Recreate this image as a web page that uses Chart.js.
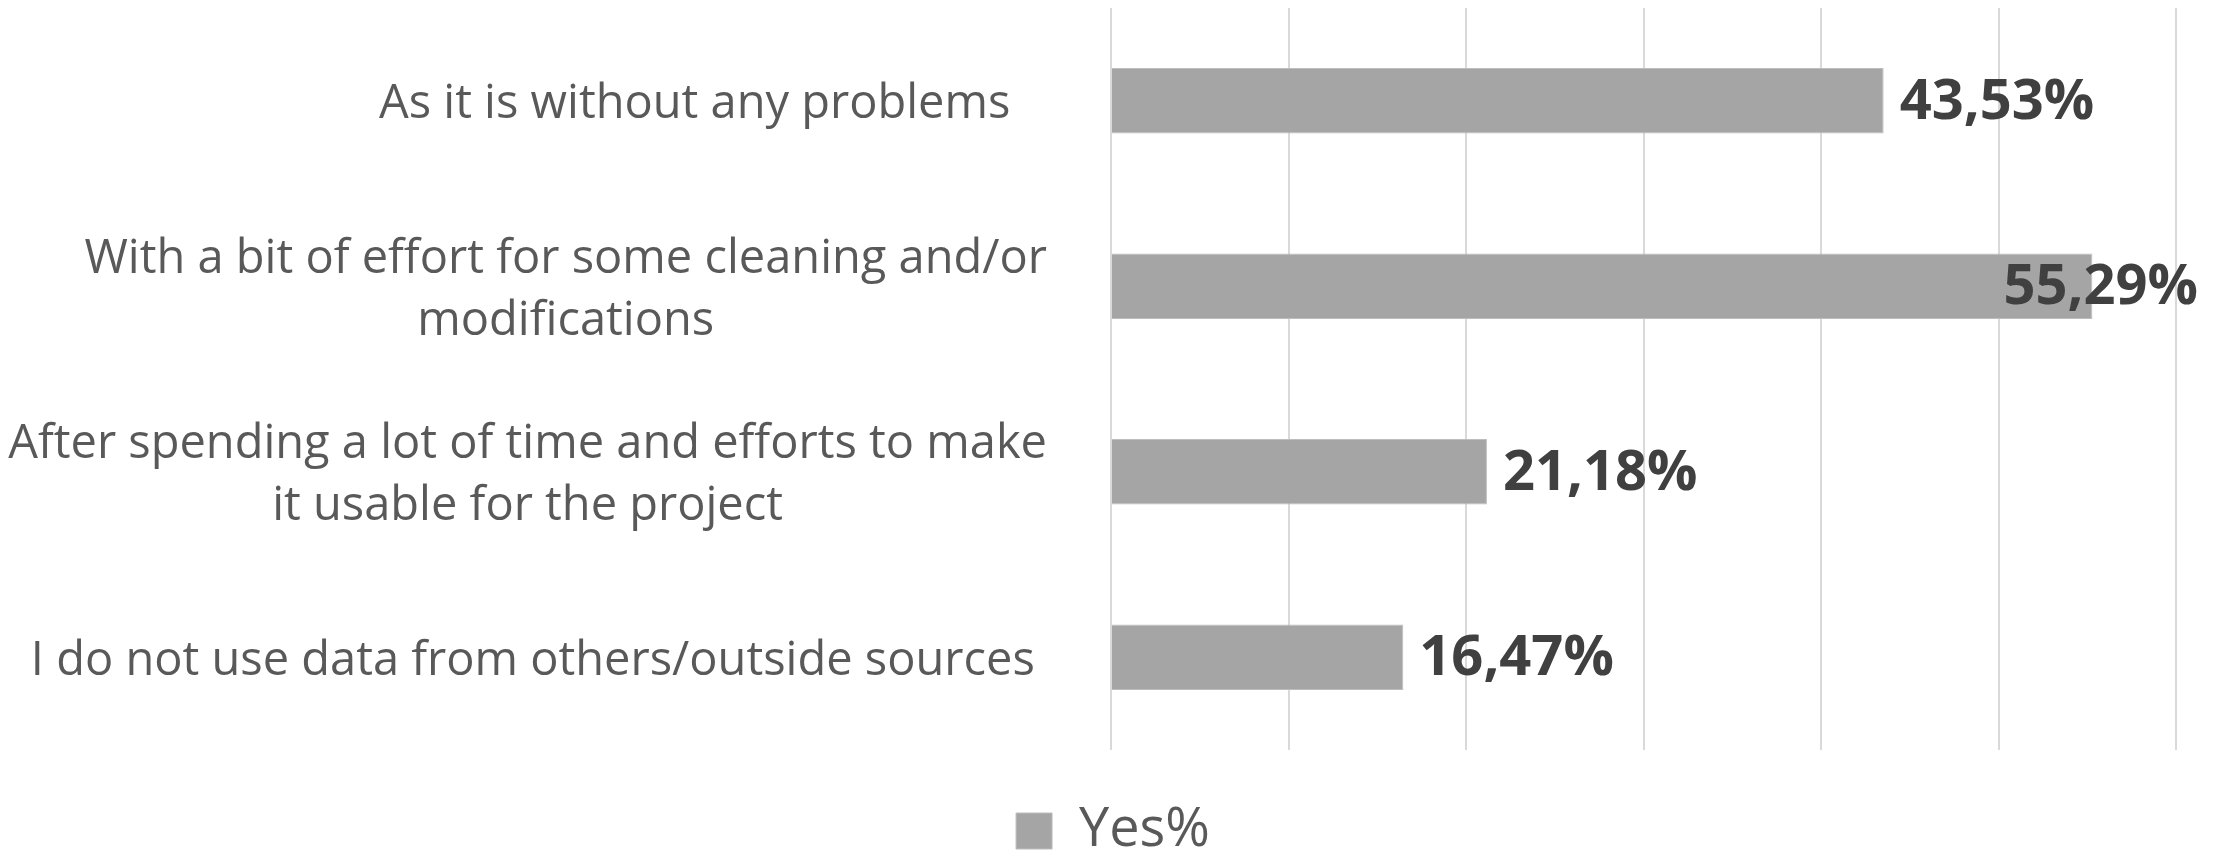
<!DOCTYPE html>
<html>
<head>
<meta charset="utf-8">
<script src="https://cdn.jsdelivr.net/npm/chart.js@4.4.1/dist/chart.umd.min.js"></script>
<style>
  html, body { margin: 0; padding: 0; background: #ffffff; }
  #wrap { width: 2226px; height: 855px; position: relative; }
</style>
</head>
<body>
<div id="wrap"><canvas id="c"></canvas></div>
<script>
const categories = [
  "As it is without any problems   ",
  ["With a bit of effort for some cleaning and/or", "modifications"],
  ["After spending a lot of time and efforts to make", "it usable for the project"],
  "I do not use data from others/outside sources "
];
const seriesName = "Yes%";
const yesValues = [43.53, 55.29, 21.18, 16.47];
const axisMin = 0;
const axisMax = 60;
const axisStep = 10;

const FONT = '"Open Sans", "DejaVu Sans", sans-serif';

const categoryLabelPlugin = {
  id: 'categoryLabels',
  afterDraw(chart) {
    const ctx = chart.ctx;
    const yScale = chart.scales.y;
    ctx.save();
    ctx.font = '47px ' + FONT;
    ctx.fillStyle = '#595959';
    ctx.textAlign = 'center';
    ctx.textBaseline = 'middle';
    const right = chart.chartArea.left - 64;
    const lh = 62;
    categories.forEach((lab, i) => {
      const lines = Array.isArray(lab) ? lab : [lab];
      const boxW = Math.max(...lines.map(l => ctx.measureText(l).width));
      const cx = right - boxW / 2;
      const y = yScale.getPixelForValue(i) + 4;
      lines.forEach((l, j) => {
        ctx.fillText(l, cx, y + (j - (lines.length - 1) / 2) * lh);
      });
    });
    ctx.restore();
  }
};

const valueLabelPlugin = {
  id: 'valueLabels',
  afterDatasetsDraw(chart) {
    const ctx = chart.ctx;
    const meta = chart.getDatasetMeta(0);
    ctx.save();
    ctx.font = 'bold 56px ' + FONT;
    ctx.fillStyle = '#404040';
    ctx.textAlign = 'left';
    ctx.textBaseline = 'middle';
    meta.data.forEach((bar, i) => {
      const text = yesValues[i].toFixed(2).replace('.', ',') + '%';
      const w = ctx.measureText(text).width;
      let x = bar.x + 16;
      x = Math.min(x, chart.width - 28 - w);
      ctx.fillText(text, x, bar.y + 2);
    });
    ctx.restore();
  }
};

new Chart(document.getElementById('c'), {
  type: 'bar',
  data: {
    labels: categories,
    datasets: [{
      label: seriesName,
      data: yesValues,
      backgroundColor: '#a5a5a5',
      borderColor: '#bdbdbd',
      borderWidth: 1,
      categoryPercentage: 1,
      barPercentage: 0.354
    }]
  },
  options: {
    indexAxis: 'y',
    responsive: true,
    maintainAspectRatio: false,
    animation: false,
    layout: { padding: { top: 8, right: 0, left: 0, bottom: -13 } },
    scales: {
      x: {
        min: axisMin,
        max: axisMax,
        ticks: { stepSize: axisStep, display: false },
        grid: { color: '#d9d9d9', lineWidth: 2, drawTicks: false },
        border: { display: false },
        afterFit(scale) { scale.height = 44; }
      },
      y: {
        ticks: { display: false },
        grid: { display: false, drawTicks: false },
        border: { display: false },
        afterFit(scale) { scale.width = 1111; }
      },
      y2: {
        type: 'category',
        position: 'right',
        ticks: { display: false },
        grid: { display: false, drawTicks: false },
        border: { display: false },
        afterFit(scale) { scale.width = 50; }
      }
    },
    plugins: {
      legend: {
        position: 'bottom',
        labels: {
          boxWidth: 36,
          boxHeight: 36,
          color: '#595959',
          font: { family: FONT, size: 54 },
          padding: 10
        }
      },
      tooltip: { enabled: false }
    }
  },
  plugins: [categoryLabelPlugin, valueLabelPlugin]
});
</script>
</body>
</html>
